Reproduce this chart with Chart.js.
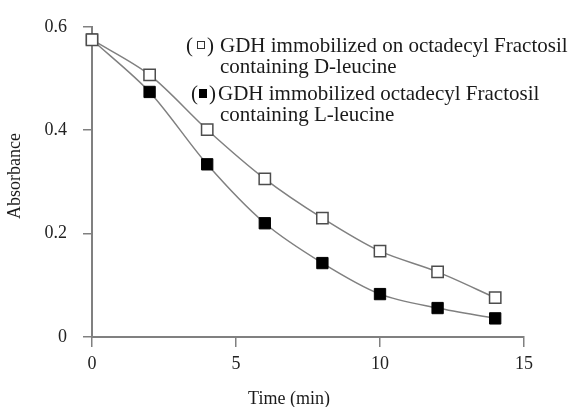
<!DOCTYPE html>
<html lang="en">
<head>
  <meta charset="UTF-8">
  <title>Absorbance vs time</title>
  <script src="https://cdn.jsdelivr.net/npm/chart.js"></script>
  <style>
    body {
      margin: 0;
      background-color: #fff;
    }
    #chartBox {
      width: 573px;
      height: 407px;
    }
  </style>
</head>
<body>
<div id="chartBox">
  <canvas id="absChart" width="573" height="407"></canvas>
</div>

<script>
  // time points (min)
  const times = [0, 2, 4, 6, 8, 10, 12, 14];
  // GDH on octadecyl Fractosil with D-leucine (open squares)
  const dLeucine = [0.575, 0.507, 0.401, 0.306, 0.230, 0.166, 0.126, 0.076];
  // GDH on octadecyl Fractosil with L-leucine (filled squares)
  const lLeucine = [0.575, 0.474, 0.334, 0.220, 0.143, 0.083, 0.056, 0.036];

  const legendLines = [
    ['GDH immobilized on octadecyl Fractosil', 'containing D-leucine'],
    ['GDH immobilized octadecyl Fractosil', 'containing L-leucine']
  ];
  const xTitle = 'Time (min)';
  const yTitle = 'Absorbance';

  const serif = "'Liberation Serif', 'Times New Roman', serif";
  Chart.defaults.font.family = serif;
  Chart.defaults.color = '#222';

  const toPoints = vals => vals.map((v, i) => ({ x: times[i], y: v }));

  // axis titles and the text legend in the top right
  const textPlugin = {
    id: 'textPlugin',
    afterDraw(chart) {
      const ctx = chart.ctx;
      ctx.save();
      ctx.fillStyle = '#1a1a1a';
      ctx.font = '18px ' + serif;
      ctx.textBaseline = 'alphabetic';
      ctx.textAlign = 'center';
      ctx.fillText(xTitle, 289, 404);

      ctx.save();
      ctx.translate(20, 176);
      ctx.rotate(-Math.PI / 2);
      ctx.fillText(yTitle, 0, 0);
      ctx.restore();

      ctx.font = '21px ' + serif;
      ctx.textAlign = 'left';
      // first entry
      ctx.fillText('(', 186, 52);
      ctx.fillText(')', 207, 52);
      ctx.strokeStyle = '#333';
      ctx.lineWidth = 1;
      ctx.strokeRect(197.5, 41.5, 7, 7);
      ctx.fillText(legendLines[0][0], 220, 52);
      ctx.fillText(legendLines[0][1], 220, 73);
      // second entry
      ctx.fillText('(', 191, 100);
      ctx.fillText(')', 209, 100);
      ctx.fillStyle = '#000';
      ctx.fillRect(199, 89, 8, 9);
      ctx.fillStyle = '#1a1a1a';
      ctx.fillText(legendLines[1][0], 218, 100);
      ctx.fillText(legendLines[1][1], 220, 121);
      ctx.restore();
    }
  };

  new Chart(document.getElementById('absChart'), {
    type: 'line',
    data: {
      datasets: [
        {
          label: legendLines[0].join(' '),
          data: toPoints(dLeucine),
          borderColor: '#808080',
          borderWidth: 1.5,
          tension: 0.3,
          pointStyle: 'rect',
          pointRadius: 8,
          pointBackgroundColor: '#fff',
          pointBorderColor: '#4d4d4d',
          pointBorderWidth: 1.5
        },
        {
          label: legendLines[1].join(' '),
          data: toPoints(lLeucine),
          borderColor: '#808080',
          borderWidth: 1.5,
          tension: 0.3,
          pointStyle: 'rect',
          pointRadius: 8,
          pointBackgroundColor: '#000',
          pointBorderColor: '#000',
          pointBorderWidth: 1
        }
      ]
    },
    options: {
      responsive: false,
      animation: false,
      clip: false,
      layout: { padding: { top: 23, right: 49, left: 0, bottom: 0 } },
      plugins: {
        legend: { display: false },
        tooltip: { enabled: false }
      },
      scales: {
        x: {
          type: 'linear',
          min: 0,
          max: 15,
          afterFit: s => { s.height = 70; },
          ticks: { stepSize: 5, padding: 6, font: { size: 18 }, color: '#222' },
          grid: { drawOnChartArea: false, tickLength: 10, color: '#808080', lineWidth: 1.5 },
          border: { color: '#808080', width: 2 }
        },
        y: {
          min: 0,
          max: 0.6,
          afterFit: s => { s.width = 92; },
          ticks: { stepSize: 0.2, padding: 16, font: { size: 18 }, color: '#222' },
          grid: { drawOnChartArea: false, tickLength: 9, color: '#808080', lineWidth: 1.5 },
          border: { color: '#808080', width: 2 }
        }
      }
    },
    plugins: [textPlugin]
  });
</script>
</body>
</html>
